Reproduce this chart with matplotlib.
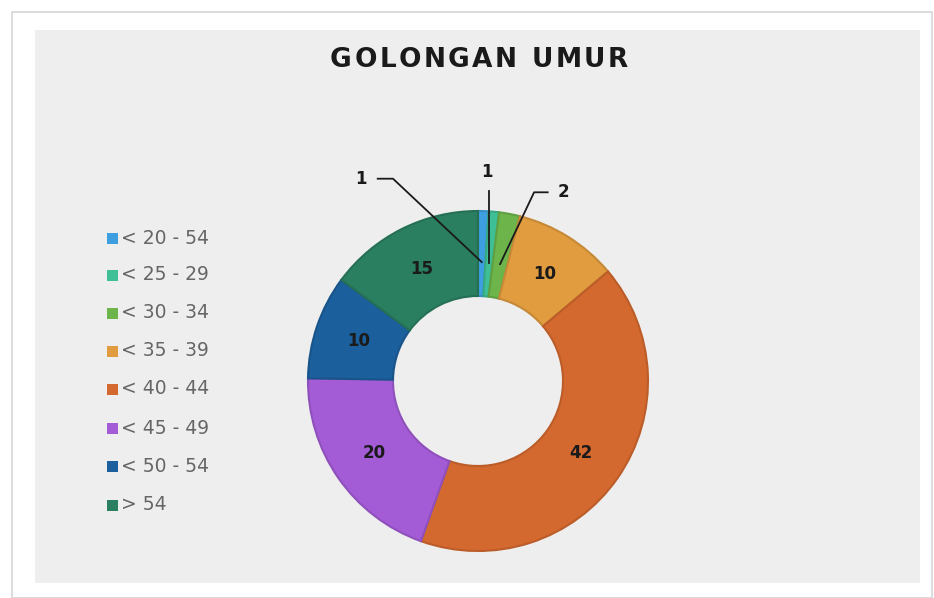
import numpy as np
import matplotlib
matplotlib.use("Agg")
import matplotlib.pyplot as plt
from matplotlib.patches import Rectangle
import matplotlib.colors as mcolors

categories = ["< 20 - 54", "< 25 - 29", "< 30 - 34", "< 35 - 39",
              "< 40 - 44", "< 45 - 49", "< 50 - 54", "> 54"]
values = [1, 1, 2, 10, 42, 20, 10, 15]
colors = ["#3d9fe0", "#3fbf96", "#6db54a", "#e09c3e",
          "#d4692f", "#a35bd6", "#1b5f9d", "#2a7f60"]
title = "GOLONGAN UMUR"

W, H = 934, 598
fig = plt.figure(figsize=(W / 100, H / 100), dpi=100)
fig.patch.set_facecolor("white")

# outer frame + grey panel (behind the axes)
fig.patches.append(Rectangle((12 / W, 0), (W - 14) / W, (H - 12) / H, transform=fig.transFigure,
                             facecolor="white", edgecolor="#d6d6d6", lw=1.2, zorder=-2))
fig.patches.append(Rectangle((35 / W, (H - 583) / H), (920 - 35) / W, (583 - 30) / H,
                             transform=fig.transFigure, facecolor="#eeeeee", edgecolor="none", zorder=-1))

# letter-spaced title, drawn char by char
renderer = fig.canvas.get_renderer()
tkw = dict(fontsize=19, fontweight="bold", color="#1a1a1a", family="DejaVu Sans", va="center")
gap = 2.5
widths = []
for ch in title:
    t = fig.text(0, 0, ch if ch != " " else "n", **tkw)
    bb = t.get_window_extent(renderer)
    widths.append(bb.width if ch != " " else bb.width * 0.5)
    t.remove()
total_w = sum(widths) + gap * (len(title) - 1)
xp = 479 - total_w / 2
for ch, wd in zip(title, widths):
    if ch != " ":
        fig.text(xp / W, 1 - 60 / H, ch, ha="left", **tkw)
    xp += wd + gap

# donut axes: centre (478, 381) px, radius 170 px
cx, cy, R = 478, 381, 170
ax = fig.add_axes([(cx - R) / W, (H - cy - R) / H, 2 * R / W, 2 * R / H])

edges = [mcolors.to_hex(np.array(mcolors.to_rgb(c)) * 0.88) for c in colors]
wedges, _ = ax.pie(values, colors=colors, startangle=90, counterclock=False, radius=1.0,
                   wedgeprops=dict(width=0.5, linewidth=1.5))
for w, ec in zip(wedges, edges):
    w.set_edgecolor(ec)
ax.set_xlim(-1, 1); ax.set_ylim(-1, 1)
ax.set_aspect("equal"); ax.axis("off")

total = sum(values)
cum = np.cumsum([0] + values)
mids = [(cum[i] + cum[i + 1]) / 2 / total * 2 * np.pi for i in range(len(values))]

lab_font = dict(fontsize=12, fontweight="bold", color="#1a1a1a", ha="center", va="center")
for i, v in enumerate(values):
    if v >= 10:
        a = mids[i]
        ax.text(0.74 * np.sin(a), 0.74 * np.cos(a), str(v), **lab_font)

# leader lines for the thin slices
r0 = 0.70
def pt(i):
    return r0 * np.sin(mids[i]), r0 * np.cos(mids[i])

x0, y0 = pt(0)
ax.plot([x0, -0.50, -0.59], [y0, 1.19, 1.19], color="#1a1a1a", lw=1.3, clip_on=False)
ax.text(-0.69, 1.19, str(values[0]), clip_on=False, **lab_font)

x1, y1 = pt(1)
ax.plot([x1, x1], [y1, 1.12], color="#1a1a1a", lw=1.3, clip_on=False)
ax.text(x1 - 0.01, 1.23, str(values[1]), clip_on=False, **lab_font)

x2, y2 = pt(2)
ax.plot([x2, 0.33, 0.41], [y2, 1.11, 1.11], color="#1a1a1a", lw=1.3, clip_on=False)
ax.text(0.50, 1.11, str(values[2]), clip_on=False, **lab_font)

# legend on the left
ys = [238, 275, 313, 351, 389, 428, 466, 505]
for lab, c, yp in zip(categories, colors, ys):
    fig.patches.append(Rectangle((107 / W, (H - yp - 5.5) / H), 11 / W, 11 / H,
                                 transform=fig.transFigure, facecolor=c, edgecolor="none"))
    fig.text(121 / W, 1 - yp / H, lab, ha="left", va="center", fontsize=13.5, color="#666666")

fig.savefig("out.png", dpi=100)
